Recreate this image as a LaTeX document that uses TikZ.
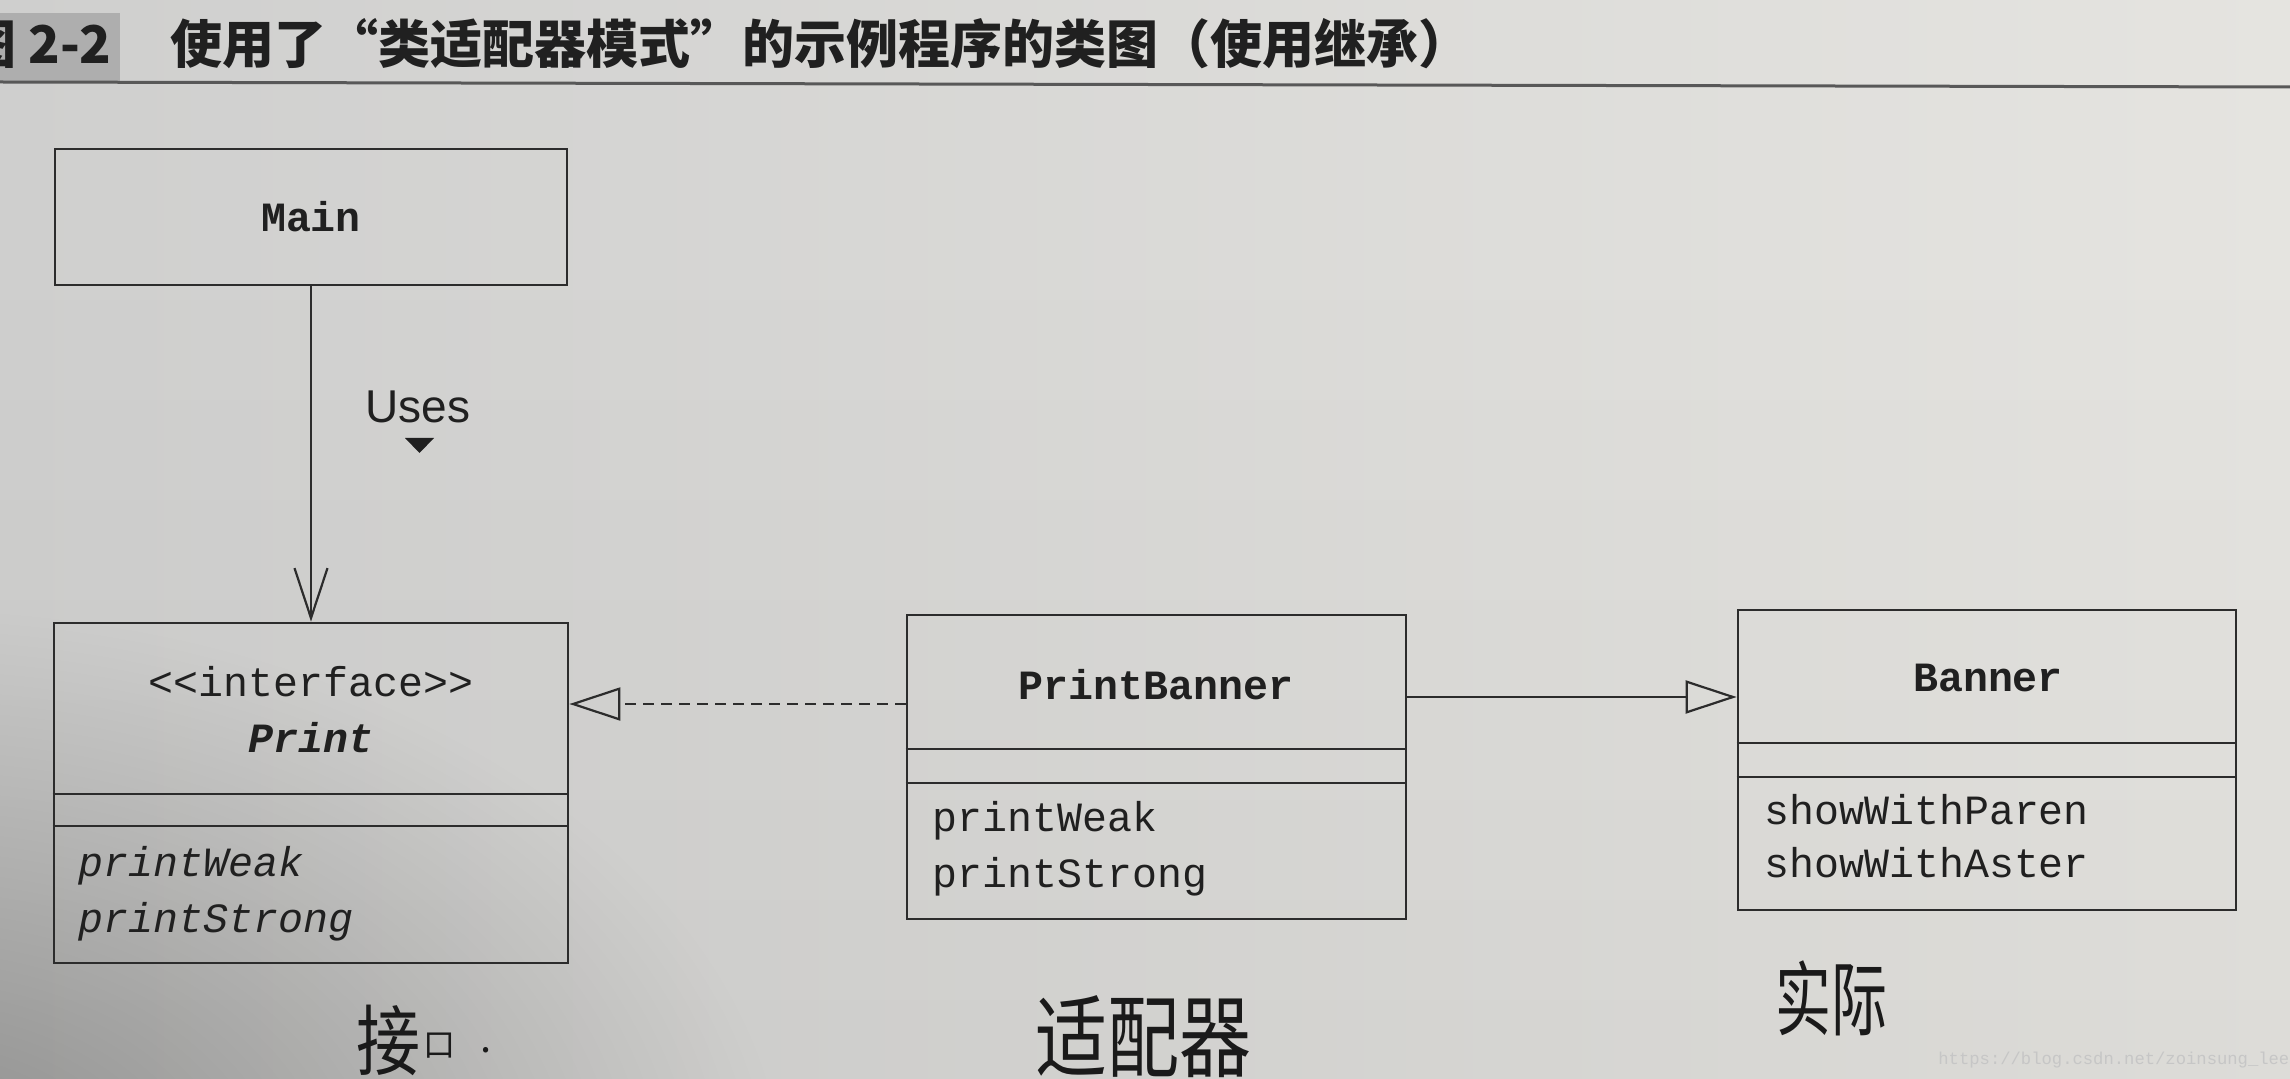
\documentclass[tikz,border=0pt]{standalone}
\usepackage{fontspec}
\usetikzlibrary{arrows.meta}
\setsansfont{Liberation Sans}
\newfontfamily\cjk{Noto Sans CJK SC}
\newfontfamily\mono{Liberation Mono}
\definecolor{ink}{RGB}{32,32,32}
\definecolor{linec}{RGB}{44,44,44}
\definecolor{handink}{RGB}{26,26,26}
\definecolor{rulec}{RGB}{88,88,88}
\definecolor{figbox}{RGB}{174,174,174}
\definecolor{wm}{RGB}{198,198,198}
\definecolor{paperL}{RGB}{207,207,206}
\definecolor{paperR}{RGB}{229,228,224}
\tikzset{
 cls/.style={draw=linec, line width=1.4pt, rectangle, inner sep=0pt},
 clsname/.style={font=\mono\bfseries\fontsize{20.8pt}{24pt}\selectfont, text=ink, inner sep=0pt},
 member/.style={font=\mono\fontsize{20.8pt}{24pt}\selectfont, text=ink, inner sep=0pt, anchor=mid west},
 divider/.style={draw=linec, line width=1.4pt},
 conn/.style={draw=linec, line width=1.1pt},
 hand/.style={text=handink, inner sep=0pt},
 opentri/.style={-{Triangle[open, length=25.5pt, width=16.5pt]}},
 usesarrow/.style={-{Straight Barb[length=25pt, width=16.5pt]}},
 blob/.style={black, fill opacity=#1},
}
\begin{document}
\begin{tikzpicture}[x=0.5pt, y=-0.5pt]
\useasboundingbox (0,0) rectangle (2290,1079);
% paper background
\begin{scope}
\clip (0,0) rectangle (2290,1079);
\shade[left color=paperL, right color=paperR] (0,0) rectangle (2290,1079);
\foreach \yy in {300,400,...,1000}
  \fill[blob=0.004] (0,\yy) rectangle (2290,1079);
\foreach \r in {1300,1280,...,600}
  \fill[blob=0.0018] (-100,1200) ellipse [x radius=\r*0.75pt, y radius=\r*0.5pt];
\foreach \r in {590,580,...,300}
  \fill[blob=0.0026] (-100,1200) ellipse [x radius=\r*0.75pt, y radius=\r*0.5pt];
\foreach \r in {290,280,...,10}
  \fill[blob=0.0032] (-100,1200) ellipse [x radius=\r*0.75pt, y radius=\r*0.5pt];
\end{scope}
% title
\fill[figbox] (-5,13) rectangle (120,83);
\node[anchor=base east, inner sep=0pt, text=ink, font=\cjk\bfseries\fontsize{26pt}{28pt}\selectfont] (figchar) at (17,64) {图};
\node[anchor=base, inner sep=0pt, text=ink, font=\cjk\bfseries\fontsize{26pt}{28pt}\selectfont] (fignum) at (70,64) {2-2};
\node[anchor=base west, inner sep=0pt, text=ink, font=\cjk\bfseries\fontsize{26pt}{28pt}\selectfont] (title) at (170,64) {使用了“类适配器模式”的示例程序的类图（使用继承）};
\draw[rulec, line width=1.5pt] (0,82) -- (2290,87);

% Main
\node[cls, minimum width=256pt, minimum height=68pt, clsname] (main) at (311,217) {Main};

% Print
\node[cls, minimum width=257pt, minimum height=170pt] (print) at (311,793) {};
\node[font=\mono\fontsize{20.8pt}{24pt}\selectfont, text=ink, inner sep=0pt] (printst) at (311,682) {<{}<interface>{}>};
\node[clsname, font=\mono\bfseries\itshape\fontsize{20.8pt}{24pt}\selectfont] (printname) at (311,738) {Print};
\coordinate (pd1) at (0,794);
\coordinate (pd2) at (0,826);
\draw[divider] (print.west |- pd1) -- (print.east |- pd1);
\draw[divider] (print.west |- pd2) -- (print.east |- pd2);
\node[member, font=\mono\itshape\fontsize{20.8pt}{24pt}\selectfont] (pw1) at (78,872) {printWeak};
\node[member, font=\mono\itshape\fontsize{20.8pt}{24pt}\selectfont] (ps1) at (78,928) {printStrong};

% PrintBanner
\node[cls, minimum width=249.5pt, minimum height=152pt] (pb) at (1156.5,767) {};
\node[clsname] (pbname) at (1156,685) {PrintBanner};
\coordinate (bd1) at (0,749);
\coordinate (bd2) at (0,783);
\draw[divider] (pb.west |- bd1) -- (pb.east |- bd1);
\draw[divider] (pb.west |- bd2) -- (pb.east |- bd2);
\node[member] (pw2) at (932,827) {printWeak};
\node[member] (ps2) at (932,883) {printStrong};

% Banner
\node[cls, minimum width=249pt, minimum height=150pt] (banner) at (1987,760) {};
\node[clsname] (bname) at (1988,678) {Banner};
\coordinate (nd1) at (0,743);
\coordinate (nd2) at (0,777);
\draw[divider] (banner.west |- nd1) -- (banner.east |- nd1);
\draw[divider] (banner.west |- nd2) -- (banner.east |- nd2);
\node[member] (swp) at (1764,820) {showWithParen};
\node[member] (swa) at (1764,873) {showWithAster};

% connectors
\draw[conn, usesarrow] (main) -- (print);
\node[font=\sffamily\fontsize{23pt}{26pt}\selectfont, text=ink, inner sep=0pt] (uses) at (418,407) {Uses};
\fill[ink] (405,438) -- (434,438) -- (419.5,453) -- cycle;

\coordinate (dy) at (0,704);
\draw[conn, dash pattern=on 5.5pt off 3.5pt, opentri] (pb.west |- dy) -- (print.east |- dy);
\coordinate (sy) at (0,697);
\draw[conn, opentri] (pb.east |- sy) -- (banner.west |- sy);

% handwritten notes
\node[hand, font=\cjk\fontsize{32pt}{34pt}\selectfont] (jie) at (388,1040) {\scalebox{1}[1.2]{接}};
\node[hand, font=\cjk\fontsize{16pt}{18pt}\selectfont] (kou) at (439,1046) {口};
\node[hand, font=\cjk\fontsize{20pt}{22pt}\selectfont] (dot) at (486,1050) {.};
\node[hand, font=\cjk\fontsize{36pt}{38pt}\selectfont] (adapter) at (1143,1037) {\scalebox{1}[1.25]{适配器}};
\node[hand, font=\cjk\fontsize{28pt}{30pt}\selectfont] (real) at (1831,998) {\scalebox{1}[1.45]{实际}};

% watermark
\node[anchor=west, inner sep=0pt, text=wm, font=\mono\fontsize{8.6pt}{9pt}\selectfont] (wmark) at (1938,1060) {https://blog.csdn.net/zoinsung\_lee};
\end{tikzpicture}
\end{document}
